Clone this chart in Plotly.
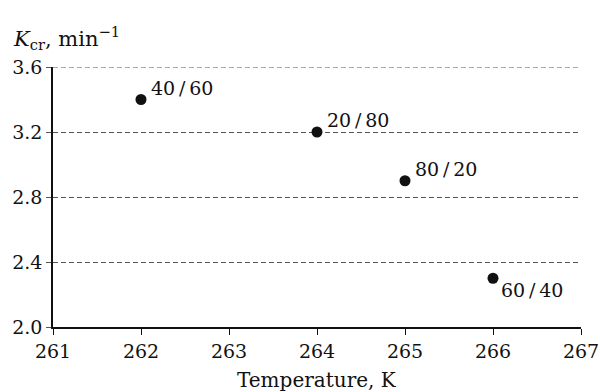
import plotly.graph_objects as go

temps = [262, 264, 265, 266]
kcr = [3.4, 3.2, 2.9, 2.3]
labels = ["40/60", "20/80", "80/20", "60/40"]
label_below = [False, False, False, True]
x_ticks = [261, 262, 263, 264, 265, 266, 267]
y_ticks = [2.0, 2.4, 2.8, 3.2, 3.6]

FONT = "DejaVu Serif"
NUM_FS = 19
TITLE_FS = 21
INK = "#111111"
GRID = "#555555"

fig = go.Figure()
fig.add_trace(go.Scatter(
    x=temps, y=kcr, mode="markers",
    marker=dict(size=11, color=INK),
    showlegend=False, hoverinfo="skip",
))

for xv, yv, lab, below in zip(temps, kcr, labels, label_below):
    fig.add_annotation(
        x=xv, y=yv, xref="x", yref="y", text=lab.replace("/", "\u2009/\u2009"), showarrow=False,
        xanchor="left", yanchor="middle",
        xshift=8 if not below else 6, yshift=12 if not below else -12,
        font=dict(family=FONT, size=NUM_FS, color=INK),
    )

fig.add_annotation(
    x=0, y=1, xref="paper", yref="paper", xanchor="left", yanchor="middle",
    xshift=-42, yshift=29, showarrow=False,
    text="<i>K</i><sub>cr</sub>, min<sup>−1</sup>",
    font=dict(family=FONT, size=TITLE_FS, color=INK),
)
fig.add_annotation(
    x=0.5, y=0, xref="paper", yref="paper", xanchor="center", yanchor="middle",
    yshift=-53, showarrow=False, text="Temperature, K",
    font=dict(family=FONT, size=20, color=INK),
)

# top gridline at 3.6 (edge of plot area)
fig.add_shape(type="line", xref="paper", yref="y", x0=0, x1=1, y0=y_ticks[-1], y1=y_ticks[-1],
              line=dict(color=GRID, width=1, dash="5px,3px"), layer="below")

fig.update_xaxes(
    range=[261, 267], tickvals=x_ticks, ticktext=[str(v) for v in x_ticks],
    showgrid=False, zeroline=False, showline=True, linecolor=INK, linewidth=1.5,
    ticks="outside", ticklen=6, tickcolor=INK, tickwidth=1, automargin=False,
    tickfont=dict(family=FONT, size=NUM_FS, color=INK),
)
fig.update_yaxes(
    range=[2.0, 3.6], tickvals=y_ticks, ticktext=[f"{v:.1f}" for v in y_ticks],
    showgrid=True, gridcolor=GRID, griddash="5px,3px", gridwidth=1,
    zeroline=False, showline=True, linecolor=INK, linewidth=1.5,
    ticks="outside", ticklen=5, tickcolor=GRID, tickwidth=1, automargin=False,
    tickfont=dict(family=FONT, size=NUM_FS, color=INK),
)
fig.update_layout(
    width=600, height=392,
    margin=dict(l=53, r=19, t=67, b=65, autoexpand=False),
    plot_bgcolor="white", paper_bgcolor="white",
)
fig.write_html(
    "out.html",
    config={"displayModeBar": False},
    post_script="document.body.style.margin='0';document.body.style.overflow='hidden';",
)
